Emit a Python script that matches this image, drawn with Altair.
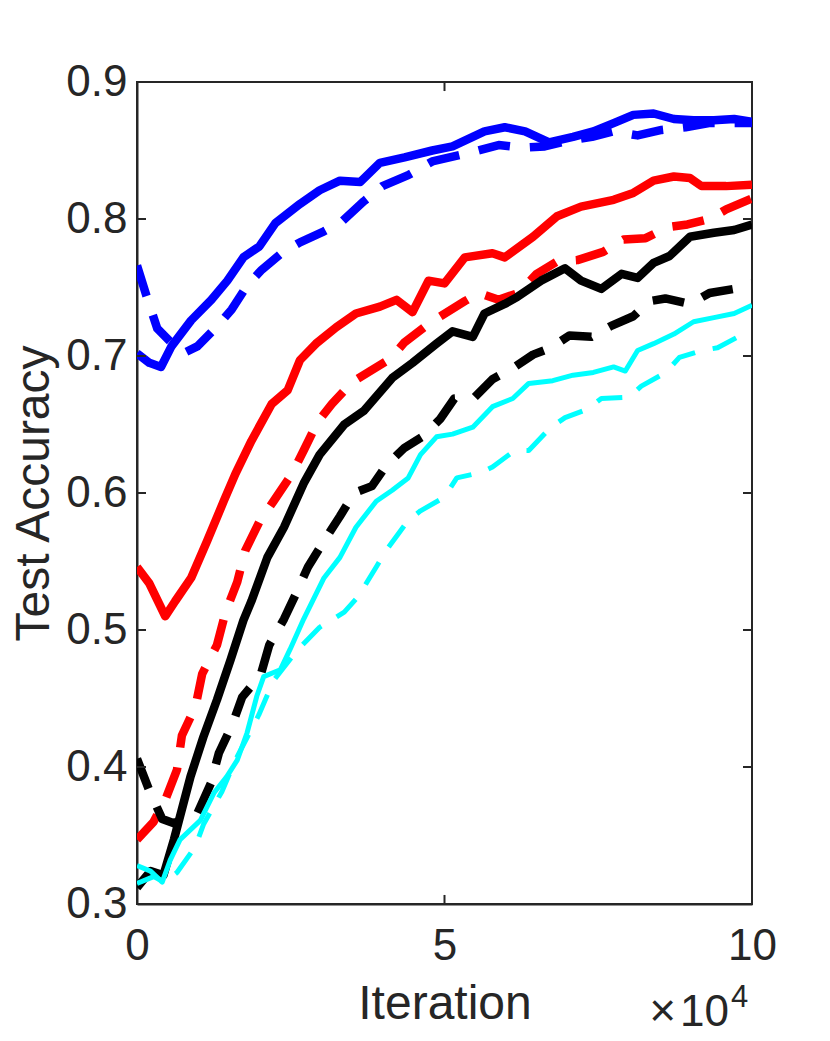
import altair as alt
import pandas as pd

# ---- data (x in units of 1e4 iterations) ----
blue_solid_x = [0, 0.2, 0.39, 0.56, 0.88, 1.21, 1.47, 1.73, 1.99, 2.25, 2.65, 2.97, 3.30, 3.63, 3.95, 4.35,
                4.80, 5.13, 5.65, 5.98, 6.31, 6.70, 7.09, 7.42, 7.75, 8.07, 8.40, 8.73, 9.05, 9.38, 9.71, 10]
blue_solid_y = [0.702, 0.695, 0.692, 0.707, 0.726, 0.741, 0.755, 0.772, 0.780, 0.797, 0.811, 0.821, 0.828,
                0.827, 0.841, 0.845, 0.850, 0.853, 0.864, 0.867, 0.864, 0.856, 0.860, 0.864, 0.870, 0.876,
                0.877, 0.873, 0.872, 0.872, 0.873, 0.871]

blue_dash_x = [0, 0.16, 0.33, 0.62, 0.8, 0.98, 1.27, 1.54, 1.80, 2.03, 2.35, 2.65, 3.04, 3.33, 3.69, 3.99,
               4.41, 4.80, 5.46, 5.88, 6.27, 6.63, 7.0, 7.4, 7.75, 8.14, 8.53, 8.92, 9.3, 10]
blue_dash_y = [0.766, 0.743, 0.720, 0.707, 0.703, 0.707, 0.720, 0.734, 0.752, 0.763, 0.775, 0.783, 0.791,
               0.798, 0.813, 0.824, 0.832, 0.842, 0.849, 0.854, 0.852, 0.853, 0.857, 0.860, 0.864, 0.861,
               0.865, 0.867, 0.870, 0.870]

red_solid_x = [0, 0.2, 0.46, 0.62, 0.88, 1.14, 1.41, 1.6, 1.86, 2.19, 2.45, 2.65, 2.91, 3.24, 3.56, 3.95,
               4.22, 4.48, 4.74, 5.0, 5.33, 5.78, 5.98, 6.44, 6.83, 7.22, 7.75, 8.07, 8.4, 8.73, 8.99, 9.18,
               9.58, 10]
red_solid_y = [0.546, 0.534, 0.510, 0.521, 0.538, 0.565, 0.594, 0.614, 0.638, 0.665, 0.675, 0.697, 0.709,
               0.721, 0.731, 0.736, 0.741, 0.732, 0.755, 0.753, 0.772, 0.775, 0.772, 0.787, 0.802, 0.809,
               0.814, 0.819, 0.828, 0.831, 0.830, 0.824, 0.824, 0.825]

red_dash_x = [0, 0.27, 0.46, 0.65, 0.73, 0.95, 1.06, 1.30, 1.44, 1.63, 1.76, 1.99, 2.22, 2.52, 2.71, 2.94,
              3.17, 3.50, 3.79, 4.12, 4.35, 4.67, 4.9, 5.33, 5.56, 5.88, 6.2, 6.5, 6.83, 7.16, 7.58, 7.91,
              8.27, 8.63, 8.95, 9.31, 9.58, 10]
red_dash_y = [0.347, 0.360, 0.376, 0.398, 0.423, 0.444, 0.468, 0.489, 0.513, 0.535, 0.558, 0.579, 0.594,
              0.614, 0.631, 0.652, 0.665, 0.681, 0.689, 0.698, 0.710, 0.721, 0.728, 0.740, 0.746, 0.741,
              0.746, 0.760, 0.769, 0.770, 0.776, 0.785, 0.786, 0.794, 0.796, 0.800, 0.807, 0.815]

black_solid_x = [0, 0.22, 0.43, 0.6, 0.87, 1.08, 1.3, 1.52, 1.73, 1.86, 2.12, 2.39, 2.71, 2.97, 3.37, 3.69,
                 4.15, 4.48, 4.87, 5.13, 5.46, 5.65, 5.98, 6.18, 6.57, 6.96, 7.22, 7.55, 7.88, 8.14, 8.4,
                 8.66, 8.99, 9.38, 9.71, 10]
black_solid_y = [0.312, 0.324, 0.321, 0.347, 0.393, 0.422, 0.449, 0.478, 0.507, 0.521, 0.553, 0.575, 0.607,
                 0.628, 0.650, 0.660, 0.684, 0.695, 0.709, 0.718, 0.714, 0.731, 0.738, 0.743, 0.755, 0.764,
                 0.755, 0.749, 0.760, 0.757, 0.768, 0.773, 0.787, 0.790, 0.792, 0.796]

black_dash_x = [0, 0.19, 0.41, 0.6, 0.98, 1.2, 1.33, 1.55, 1.71, 2.01, 2.15, 2.39, 2.58, 2.78, 3.04, 3.3,
                3.53, 3.82, 4.05, 4.35, 4.64, 4.93, 5.16, 5.49, 5.78, 6.14, 6.44, 6.73, 7.03, 7.39, 7.71,
                8.07, 8.33, 8.59, 8.99, 9.31, 9.71, 10]
black_dash_y = [0.406, 0.384, 0.362, 0.359, 0.366, 0.388, 0.410, 0.431, 0.451, 0.467, 0.489, 0.508, 0.526,
                0.546, 0.565, 0.583, 0.600, 0.605, 0.620, 0.633, 0.641, 0.654, 0.669, 0.670, 0.683, 0.692,
                0.701, 0.706, 0.715, 0.714, 0.722, 0.729, 0.740, 0.742, 0.738, 0.746, 0.749, 0.753]

cyan_solid_x = [0, 0.22, 0.41, 0.54, 0.7, 1.03, 1.25, 1.46, 1.63, 1.79, 1.95, 2.06, 2.33, 2.49, 2.71, 3.04,
                3.3, 3.56, 3.89, 4.15, 4.41, 4.61, 4.87, 5.13, 5.46, 5.78, 6.11, 6.37, 6.76, 7.09, 7.42,
                7.75, 7.94, 8.14, 8.4, 8.73, 9.05, 9.38, 9.71, 10]
cyan_solid_y = [0.328, 0.324, 0.316, 0.332, 0.347, 0.361, 0.381, 0.393, 0.405, 0.425, 0.452, 0.466, 0.471,
                0.486, 0.508, 0.538, 0.553, 0.575, 0.594, 0.602, 0.611, 0.628, 0.641, 0.643, 0.648, 0.663,
                0.669, 0.680, 0.682, 0.686, 0.688, 0.692, 0.689, 0.704, 0.709, 0.716, 0.725, 0.728, 0.731,
                0.737]

cyan_dash_x = [0, 0.27, 0.45, 0.65, 0.95, 1.08, 1.38, 1.6, 1.98, 2.22, 2.6, 2.97, 3.37, 3.59, 3.89, 4.05,
               4.41, 4.61, 5.0, 5.2, 5.59, 5.78, 6.14, 6.37, 6.73, 6.96, 7.32, 7.55, 8.0, 8.2, 8.6, 8.82,
               9.18, 9.44, 9.9, 10]
cyan_dash_y = [0.315, 0.320, 0.316, 0.323, 0.342, 0.358, 0.382, 0.405, 0.438, 0.463, 0.485, 0.502, 0.513,
               0.524, 0.546, 0.558, 0.580, 0.587, 0.597, 0.611, 0.615, 0.619, 0.631, 0.631, 0.648, 0.655,
               0.661, 0.669, 0.670, 0.678, 0.688, 0.699, 0.704, 0.706, 0.717, 0.719]

x_ticks = [0, 5, 10]
y_ticks = [0.3, 0.4, 0.5, 0.6, 0.7, 0.8, 0.9]

series = [
    (blue_solid_x, blue_solid_y, "#0000FF", None, 8.5),
    (blue_dash_x, blue_dash_y, "#0000FF", [32, 20], 8.5),
    (red_solid_x, red_solid_y, "#FF0000", None, 8.5),
    (red_dash_x, red_dash_y, "#FF0000", [32, 20], 8.5),
    (black_solid_x, black_solid_y, "#000000", None, 8.5),
    (black_dash_x, black_dash_y, "#000000", [32, 20], 8.5),
    (cyan_solid_x, cyan_solid_y, "#00FFFF", None, 5),
    (cyan_dash_x, cyan_dash_y, "#00FFFF", [26, 18], 5),
]

AX = "#262626"
FONT = "Liberation Sans"

x_scale = alt.Scale(domain=[0, 10], nice=False, zero=False)
y_scale = alt.Scale(domain=[0.3, 0.9], nice=False, zero=False)
common = dict(ticks=False, grid=False, labelFontSize=44, titleFontSize=48, labelFont=FONT,
              titleFont=FONT, titleFontWeight="normal", labelColor=AX, titleColor=AX,
              domainColor=AX, domainWidth=2, labelFlush=False, labelOverlap=False)
x_axis = alt.Axis(values=x_ticks, format="d", title="Iteration", labelPadding=20, titlePadding=12, **common)
y_axis = alt.Axis(values=y_ticks, format=".1f", title="Test Accuracy", labelPadding=10, titlePadding=7,
                  **common)

layers = []
for xs, ys, col, dash, w in series:
    df = pd.DataFrame({"x": xs, "y": ys})
    kw = dict(color=col, strokeWidth=w, clip=True, strokeJoin="round")
    if dash:
        kw["strokeDash"] = dash
        kw["strokeCap"] = "butt"
    layers.append(
        alt.Chart(df).mark_line(**kw).encode(
            x=alt.X("x:Q", scale=x_scale, axis=x_axis),
            y=alt.Y("y:Q", scale=y_scale, axis=y_axis),
        )
    )

# inward ticks on all four sides
tx = 0.146
ty = 0.0066
yt_left = pd.DataFrame({"y": y_ticks, "x": [0] * len(y_ticks), "x2": [tx] * len(y_ticks)})
yt_right = pd.DataFrame({"y": y_ticks, "x": [10 - tx] * len(y_ticks), "x2": [10] * len(y_ticks)})
xt_bot = pd.DataFrame({"x": x_ticks, "y": [0.3] * 3, "y2": [0.3 + ty] * 3})
xt_top = pd.DataFrame({"x": x_ticks, "y": [0.9 - ty] * 3, "y2": [0.9] * 3})
for d in (yt_left, yt_right):
    layers.append(alt.Chart(d).mark_rule(color=AX, strokeWidth=2).encode(
        x=alt.X("x:Q", scale=x_scale, axis=x_axis), x2="x2:Q",
        y=alt.Y("y:Q", scale=y_scale, axis=y_axis)))
for d in (xt_bot, xt_top):
    layers.append(alt.Chart(d).mark_rule(color=AX, strokeWidth=2).encode(
        x=alt.X("x:Q", scale=x_scale, axis=x_axis),
        y=alt.Y("y:Q", scale=y_scale, axis=y_axis), y2="y2:Q"))

# exponent annotation "×10^4"
exp_df = pd.DataFrame({"x": [10], "y": [0.3], "times": ["\u00d7"], "t": ["10"], "s": ["4"]})
enc = dict(x=alt.X("x:Q", scale=x_scale, axis=x_axis), y=alt.Y("y:Q", scale=y_scale, axis=y_axis))
layers.append(alt.Chart(exp_df).mark_text(align="right", baseline="alphabetic", dx=-76, dy=122,
                                          fontSize=46, font=FONT, color=AX, clip=False).encode(
    text="times:N", **enc))
layers.append(alt.Chart(exp_df).mark_text(align="right", baseline="alphabetic", dx=-23, dy=122,
                                          fontSize=44, font=FONT, color=AX, clip=False).encode(
    text="t:N", **enc))
layers.append(alt.Chart(exp_df).mark_text(align="left", baseline="alphabetic", dx=-21, dy=103,
                                          fontSize=31, font=FONT, color=AX, clip=False).encode(
    text="s:N", **enc))

chart = alt.layer(*layers).properties(
    width=615, height=822,
    background="white",
    autosize=alt.AutoSizeParams(type="none"),
    padding={"left": 129, "top": 74, "right": 70, "bottom": 129},
).configure_view(stroke=AX, strokeWidth=2)

chart.save("out.html", embed_options={"renderer": "svg", "actions": False})
